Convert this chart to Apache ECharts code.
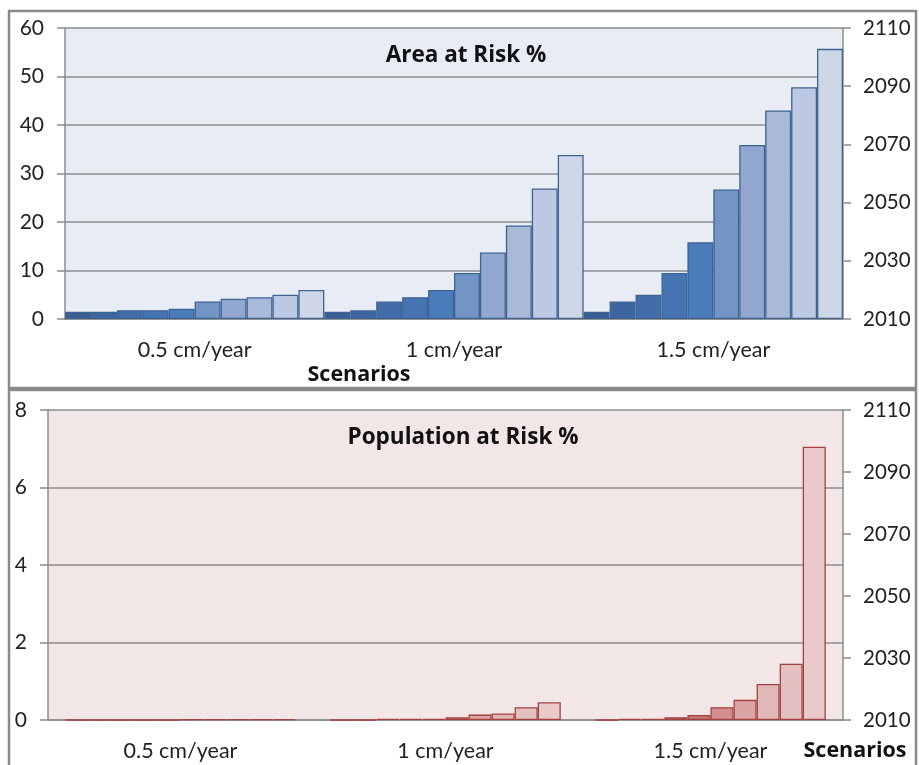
<!DOCTYPE html>
<html>
<head>
<meta charset="utf-8">
<script src="https://cdn.jsdelivr.net/npm/echarts@6/dist/echarts.min.js"></script>
<style>
html,body{margin:0;padding:0;background:#fff;}
#c{width:919px;height:765px;}
</style>
</head>
<body>
<div id="c"></div>
<script>
// ---- data ----
const scenarios = ['0.5 cm/year', '1 cm/year', '1.5 cm/year'];
const years = ['2010','2020','2030','2040','2050','2060','2070','2080','2090','2100'];
// Area at risk % per year (index) for each scenario
const area05 = [1.5, 1.5, 1.8, 1.8, 2.1, 3.6, 4.2, 4.5, 5.0, 6.0];
const area10 = [1.5, 1.8, 3.6, 4.5, 6.0, 9.5, 13.7, 19.3, 26.9, 33.8];
const area15 = [1.5, 3.6, 5.0, 9.5, 15.8, 26.7, 35.9, 43.0, 47.8, 55.7];
// Population at risk % per year for each scenario
const pop05 = [0, 0, 0, 0, 0, 0.02, 0.02, 0.02, 0.02, 0.02];
const pop10 = [0, 0, 0.03, 0.03, 0.03, 0.07, 0.14, 0.17, 0.33, 0.46];
const pop15 = [0, 0.03, 0.03, 0.07, 0.13, 0.33, 0.52, 0.93, 1.45, 7.05];
const areaTicks = {min: 0, max: 60, interval: 10};
const popTicks = {min: 0, max: 8, interval: 2};
const yearTicks = {min: 2010, max: 2110, interval: 20};

// ---- styles ----
const blues = ['#3A5F92','#3E669E','#426DA8','#4674B1','#4A7EBB','#7395C5','#92A7CF','#A9B9D8','#BDC9E2','#CDD7E8'];
const reds  = ['#A33B38','#B2433F','#C0504D','#C6625F','#C87471','#D38F8E','#DBA5A5','#E0B8B8','#E3C0C0','#E8CACB'];
const FONT = 'Lato, "Open Sans", sans-serif';
const BFONT = '"Open Sans", Lato, sans-serif';
const gridCol = '#8C8C8C';

const chart = echarts.init(document.getElementById('c'), null, {renderer: 'canvas'});

function xAxisFor(gi) {
  return {
    type: 'category', gridIndex: gi, data: scenarios,
    axisLine: {show: true, lineStyle: {color: gridCol, width: 1.5}},
    axisTick: {show: false},
    axisLabel: {color: '#222', fontFamily: FONT, fontSize: 21.5, margin: 20}
  };
}
function leftAxis(gi, t) {
  return {
    type: 'value', gridIndex: gi, min: t.min, max: t.max, interval: t.interval, position: 'left',
    axisLine: {show: true, lineStyle: {color: gridCol, width: 1.5}},
    axisTick: {show: true, length: 8, lineStyle: {color: gridCol, width: 1.5}},
    splitLine: {show: true, lineStyle: {color: gridCol, width: 1.5}},
    axisLabel: {color: '#222', fontFamily: FONT, fontSize: 21, margin: 21}
  };
}
function rightAxis(gi) {
  return {
    type: 'value', gridIndex: gi, min: yearTicks.min, max: yearTicks.max, interval: yearTicks.interval, position: 'right',
    axisLine: {show: true, lineStyle: {color: gridCol, width: 1.5}},
    axisTick: {show: true, length: 8, lineStyle: {color: gridCol, width: 1.5}},
    splitLine: {show: false},
    axisLabel: {color: '#222', fontFamily: FONT, fontSize: 20.5, margin: 20, formatter: v => String(v)}
  };
}

const series = [];
years.forEach((y, i) => {
  series.push({
    name: 'Area ' + y, type: 'bar', xAxisIndex: 0, yAxisIndex: 0,
    data: [area05[i], area10[i], area15[i]],
    barGap: '0%', barCategoryGap: '0%',
    itemStyle: {color: blues[i], borderColor: '#3D6393', borderWidth: 1.3},
    silent: true
  });
});
years.forEach((y, i) => {
  series.push({
    name: 'Population ' + y, type: 'bar', xAxisIndex: 1, yAxisIndex: 2,
    data: [pop05[i], pop10[i], pop15[i]],
    barGap: '0%', barCategoryGap: '13%',
    itemStyle: {color: reds[i], borderColor: '#A3423F', borderWidth: 1.3},
    silent: true
  });
});

chart.setOption({
  animation: false,
  backgroundColor: '#fff',
  grid: [
    {left: 65, right: 76, top: 28, bottom: 446, show: true, backgroundColor: '#E8ECF4', borderWidth: 0},
    {left: 48, right: 76, top: 410, bottom: 45, show: true, backgroundColor: '#F2E6E6', borderWidth: 0}
  ],
  xAxis: [xAxisFor(0), xAxisFor(1)],
  yAxis: [leftAxis(0, areaTicks), rightAxis(0), leftAxis(1, popTicks), rightAxis(1)],
  series: series,
  graphic: [
    {type: 'rect', z: 100, shape: {x: 9, y: 11, width: 907, height: 377}, style: {fill: 'none', stroke: '#8A8A8A', lineWidth: 2.5}, silent: true},
    {type: 'rect', z: 100, shape: {x: 9, y: 390, width: 907, height: 385}, style: {fill: 'none', stroke: '#8A8A8A', lineWidth: 2.5}, silent: true},
    {type: 'text', z: 100, style: {text: 'Area at Risk %', x: 466, y: 56, textAlign: 'center', textVerticalAlign: 'middle', font: 'bold 22.5px ' + BFONT, fill: '#111'}},
    {type: 'text', z: 100, style: {text: 'Population at Risk %', x: 463, y: 438, textAlign: 'center', textVerticalAlign: 'middle', font: 'bold 22.5px ' + BFONT, fill: '#111'}},
    {type: 'text', z: 100, style: {text: 'Scenarios', x: 359, y: 375, textAlign: 'center', textVerticalAlign: 'middle', font: 'bold 21.5px ' + BFONT, fill: '#111'}},
    {type: 'text', z: 100, style: {text: 'Scenarios', x: 855, y: 751, textAlign: 'center', textVerticalAlign: 'middle', font: 'bold 21.5px ' + BFONT, fill: '#111'}}
  ]
});
</script>
</body>
</html>
